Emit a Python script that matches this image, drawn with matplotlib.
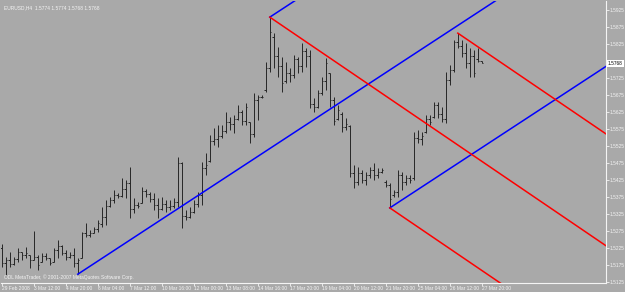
import matplotlib
matplotlib.use("Agg")
import matplotlib.pyplot as plt
import matplotlib.transforms as mtransforms

plt.rcParams["font.family"] = ["Liberation Sans", "DejaVu Sans"]

# EURUSD H4 bars (prices)
highs = [1.5237, 1.5199, 1.5213, 1.5199, 1.5225, 1.5213, 1.5228, 1.5204, 1.5275, 1.5204,
         1.5210, 1.5210, 1.5196, 1.5225, 1.5248, 1.5234, 1.5219, 1.5213, 1.5225, 1.5196,
         1.5272, 1.5298, 1.5278, 1.5287, 1.5307, 1.5346, 1.5366, 1.5375, 1.5396, 1.5387,
         1.5431, 1.5425, 1.5463, 1.5372, 1.5360, 1.5404, 1.5398, 1.5390, 1.5387, 1.5372,
         1.5375, 1.5366, 1.5366, 1.5372, 1.5493, 1.5478, 1.5337, 1.5346, 1.5366, 1.5390,
         1.5478, 1.5504, 1.5557, 1.5578, 1.5587, 1.5587, 1.5625, 1.5610, 1.5616, 1.5645,
         1.5631, 1.5651, 1.5595, 1.5681, 1.5675, 1.5675, 1.5772, 1.5904, 1.5857, 1.5816,
         1.5787, 1.5772, 1.5754, 1.5792, 1.5787, 1.5828, 1.5813, 1.5807, 1.5666, 1.5690,
         1.5728, 1.5784, 1.5740, 1.5669, 1.5645, 1.5625, 1.5607, 1.5587, 1.5469, 1.5463,
         1.5454, 1.5448, 1.5463, 1.5475, 1.5460, 1.5460, 1.5425, 1.5416, 1.5396, 1.5454,
         1.5448, 1.5440, 1.5440, 1.5566, 1.5572, 1.5566, 1.5616, 1.5616, 1.5654, 1.5654,
         1.5640, 1.5742, 1.5763, 1.5837, 1.5857, 1.5837, 1.5828, 1.5813, 1.5807, 1.5813,
         1.5774]
lows = [1.5169, 1.5146, 1.5169, 1.5175, 1.5184, 1.5190, 1.5196, 1.5166, 1.5190, 1.5160,
        1.5184, 1.5190, 1.5175, 1.5184, 1.5196, 1.5204, 1.5190, 1.5196, 1.5169, 1.5148,
        1.5196, 1.5257, 1.5257, 1.5269, 1.5272, 1.5287, 1.5293, 1.5346, 1.5357, 1.5372,
        1.5375, 1.5372, 1.5313, 1.5328, 1.5343, 1.5357, 1.5375, 1.5360, 1.5337, 1.5313,
        1.5337, 1.5331, 1.5337, 1.5343, 1.5346, 1.5284, 1.5307, 1.5313, 1.5328, 1.5346,
        1.5351, 1.5440, 1.5478, 1.5528, 1.5522, 1.5548, 1.5563, 1.5572, 1.5563, 1.5601,
        1.5587, 1.5587, 1.5534, 1.5551, 1.5601, 1.5666, 1.5684, 1.5742, 1.5754, 1.5728,
        1.5684, 1.5710, 1.5713, 1.5725, 1.5740, 1.5742, 1.5757, 1.5637, 1.5625, 1.5637,
        1.5675, 1.5690, 1.5640, 1.5587, 1.5601, 1.5566, 1.5572, 1.5434, 1.5401, 1.5410,
        1.5416, 1.5410, 1.5431, 1.5425, 1.5431, 1.5446, 1.5404, 1.5343, 1.5375, 1.5375,
        1.5396, 1.5410, 1.5416, 1.5425, 1.5534, 1.5528, 1.5563, 1.5587, 1.5607, 1.5607,
        1.5595, 1.5593, 1.5704, 1.5742, 1.5813, 1.5787, 1.5754, 1.5728, 1.5728, 1.5772,
        1.5768]
opens = [1.5225, 1.5180, 1.5190, 1.5178, 1.5192, 1.5212, 1.5205, 1.5204, 1.5190, 1.5200,
         1.5184, 1.5202, 1.5196, 1.5184, 1.5218, 1.5230, 1.5210, 1.5200, 1.5205, 1.5180,
         1.5196, 1.5268, 1.5262, 1.5270, 1.5280, 1.5295, 1.5315, 1.5350, 1.5365, 1.5380,
         1.5378, 1.5400, 1.5415, 1.5340, 1.5352, 1.5357, 1.5392, 1.5385, 1.5368, 1.5352,
         1.5340, 1.5355, 1.5345, 1.5350, 1.5360, 1.5475, 1.5320, 1.5315, 1.5330, 1.5355,
         1.5380, 1.5460, 1.5480, 1.5540, 1.5545, 1.5555, 1.5570, 1.5595, 1.5590, 1.5605,
         1.5625, 1.5600, 1.5595, 1.5560, 1.5660, 1.5668, 1.5690, 1.5755, 1.5845, 1.5790,
         1.5760, 1.5715, 1.5740, 1.5735, 1.5780, 1.5760, 1.5805, 1.5790, 1.5650, 1.5640,
         1.5680, 1.5715, 1.5740, 1.5660, 1.5605, 1.5620, 1.5580, 1.5585, 1.5445, 1.5420,
         1.5445, 1.5425, 1.5440, 1.5455, 1.5440, 1.5450, 1.5420, 1.5410, 1.5380, 1.5390,
         1.5440, 1.5420, 1.5430, 1.5430, 1.5550, 1.5545, 1.5565, 1.5605, 1.5610, 1.5645,
         1.5620, 1.5605, 1.5720, 1.5750, 1.5830, 1.5820, 1.5800, 1.5770, 1.5790, 1.5780,
         1.5774]
closes = [1.5180, 1.5190, 1.5178, 1.5192, 1.5212, 1.5205, 1.5210, 1.5190, 1.5200, 1.5175,
          1.5202, 1.5196, 1.5180, 1.5218, 1.5230, 1.5210, 1.5200, 1.5205, 1.5180, 1.5190,
          1.5268, 1.5262, 1.5270, 1.5280, 1.5300, 1.5315, 1.5350, 1.5365, 1.5380, 1.5378,
          1.5400, 1.5415, 1.5340, 1.5352, 1.5350, 1.5392, 1.5385, 1.5368, 1.5352, 1.5340,
          1.5355, 1.5345, 1.5350, 1.5360, 1.5475, 1.5320, 1.5315, 1.5330, 1.5355, 1.5380,
          1.5460, 1.5470, 1.5540, 1.5545, 1.5555, 1.5570, 1.5595, 1.5590, 1.5605, 1.5625,
          1.5600, 1.5640, 1.5560, 1.5660, 1.5668, 1.5670, 1.5755, 1.5860, 1.5790, 1.5760,
          1.5710, 1.5740, 1.5735, 1.5780, 1.5760, 1.5805, 1.5790, 1.5650, 1.5640, 1.5680,
          1.5715, 1.5770, 1.5660, 1.5600, 1.5630, 1.5580, 1.5590, 1.5445, 1.5420, 1.5445,
          1.5425, 1.5440, 1.5455, 1.5440, 1.5450, 1.5455, 1.5410, 1.5370, 1.5390, 1.5440,
          1.5420, 1.5430, 1.5425, 1.5550, 1.5545, 1.5555, 1.5605, 1.5595, 1.5645, 1.5620,
          1.5605, 1.5720, 1.5750, 1.5830, 1.5820, 1.5800, 1.5770, 1.5790, 1.5740, 1.5776,
          1.5768]

# time axis labels (one every 8 bars)
time_labels = ["29 Feb 2008", "3 Mar 12:00", "4 Mar 20:00", "6 Mar 04:00", "7 Mar 12:00",
               "10 Mar 16:00", "12 Mar 00:00", "13 Mar 08:00", "14 Mar 16:00", "17 Mar 20:00",
               "19 Mar 04:00", "20 Mar 12:00", "21 Mar 20:00", "25 Mar 04:00", "26 Mar 12:00",
               "27 Mar 20:00"]
price_ticks = [1.5125, 1.5175, 1.5225, 1.5275, 1.5325, 1.5375, 1.5425, 1.5475, 1.5525,
               1.5575, 1.5625, 1.5675, 1.5725, 1.5825, 1.5875, 1.5925]
last_price = 1.5768

# channel anchors (bar index, price) and slopes per bar
blue_anchors = [(19, 1.5148), (67, 1.5904), (97, 1.5343)]
red_anchors = [(67, 1.5904), (114, 1.5857), (97, 1.5343)]
blue_slope = 0.00077
red_slope = -0.00080

bg = "#a9a9a9"
fg = "#f4f4f4"
fs = 3.5

fig = plt.figure(figsize=(6.25, 2.92), dpi=100)
fig.patch.set_facecolor(bg)
ax = fig.add_axes([1 / 625, 9 / 292, 605 / 625, 282 / 292])
ax.set_facecolor(bg)

idx = list(range(len(highs)))
bar_col = "#262626"
ax.vlines(idx, lows, highs, color=bar_col, lw=0.7)
ax.hlines(opens, [i - 0.4 for i in idx], idx, color=bar_col, lw=0.7)
ax.hlines(closes, idx, [i + 0.4 for i in idx], color=bar_col, lw=0.7)

# channel rays
end = 200
for i0, p0 in blue_anchors:
    ax.plot([i0, end], [p0, p0 + blue_slope * (end - i0)], color="#0000ff", lw=1.1)
for i0, p0 in red_anchors:
    ax.plot([i0, end], [p0, p0 + red_slope * (end - i0)], color="#ff0000", lw=1.1)

ax.set_xlim(-0.2, 151.05)
ax.set_ylim(1.51221, 1.59515)

for s in ["left", "top"]:
    ax.spines[s].set_visible(False)
for s in ["right", "bottom"]:
    ax.spines[s].set_color(fg)
    ax.spines[s].set_linewidth(0.8)

ax.yaxis.tick_right()
ax.set_yticks(price_ticks)
ax.set_yticklabels(["%.4f" % p for p in price_ticks])
ax.tick_params(axis="y", colors=fg, labelsize=3.4, length=2, width=0.6, pad=0.8)

ax.set_xticks(list(range(0, 8 * len(time_labels), 8)))
ax.set_xticklabels(time_labels)
ax.tick_params(axis="x", colors=fg, labelsize=fs, length=2, width=0.6, pad=0.5)
for lab in ax.get_xticklabels():
    lab.set_horizontalalignment("left")

# last price marker on the price scale
trans = mtransforms.blended_transform_factory(ax.transAxes, ax.transData)
ax.text(1.003, last_price, "%.4f" % last_price, transform=trans, fontsize=3.4,
        color="black", va="center", ha="left",
        bbox=dict(boxstyle="square,pad=0.25", fc="white", ec="none"))

ax.text(0.005, 0.985, "EURUSD,H4  1.5774 1.5774 1.5768 1.5768", transform=ax.transAxes,
        fontsize=fs, color=fg, va="top", ha="left")
ax.text(0.005, 0.012, "ODL MetaTrader, \u00a9 2001-2007 MetaQuotes Software Corp.",
        transform=ax.transAxes, fontsize=fs, color=fg, va="bottom", ha="left")

fig.savefig("out.png", dpi=100, facecolor=bg)
